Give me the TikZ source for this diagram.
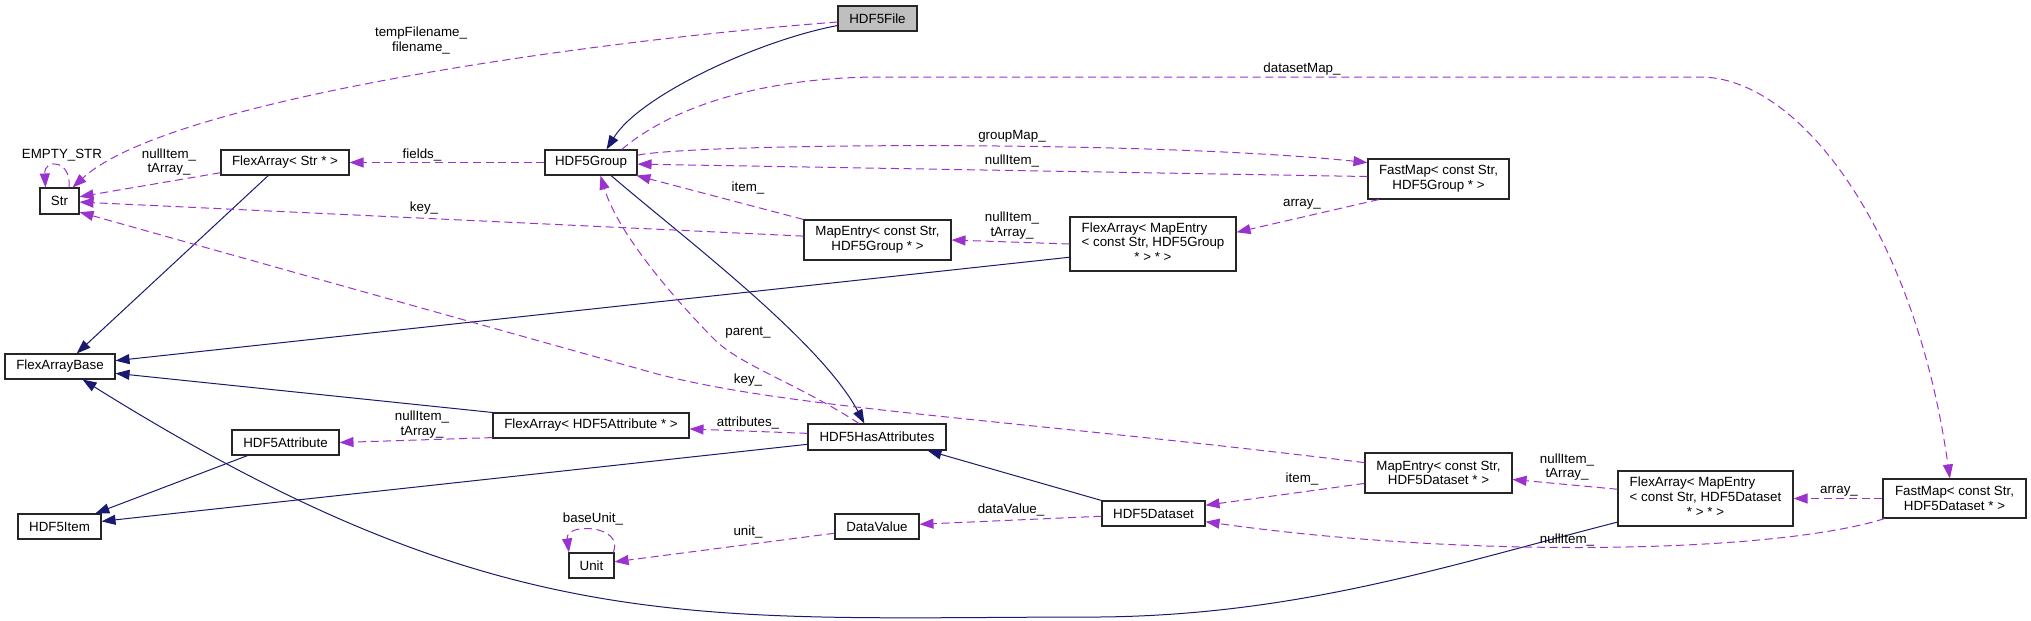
\documentclass[tikz,border=0pt]{standalone}
\usepackage{fontspec}
\setmainfont{Liberation Sans}
\usetikzlibrary{arrows.meta}
\definecolor{DoxyNavy}{HTML}{191970}
\definecolor{DoxyPurple}{HTML}{9A32CD}
\definecolor{DoxyGray}{HTML}{BFBFBF}
\begin{document}
\begin{tikzpicture}[x=0.75pt,y=-0.75pt,
  font=\fontsize{10}{11}\selectfont,
  cls/.style={draw=black!85,fill=white,line width=0.8pt,inner sep=0pt,align=center},
  sz/.style 2 args={minimum width=#1*0.75pt,minimum height=#2*0.75pt},
  inherit/.style={draw=DoxyNavy,line width=0.75pt,-{Triangle[length=10.5pt,width=7.5pt]}},
  usage/.style={draw=DoxyPurple,line width=0.75pt,dash pattern=on 6pt off 3.5pt,
    -{Triangle[length=10.5pt,width=7.5pt]}},
  lbl/.style={inner sep=0pt,align=center}]
  \path[use as bounding box] (0,0) rectangle (2031,621);
  \node[cls,sz={79}{25},fill=DoxyGray] (file) at (877.5,18.5) {HDF5File};
  \node[cls,sz={39}{26}] (str) at (59.5,201) {Str};
  \node[cls,sz={128}{25}] (flexstr) at (285,162.5) {FlexArray< Str * >};
  \node[cls,sz={92}{25}] (group) at (591,162.5) {HDF5Group};
  \node[cls,sz={141}{40}] (fastgroup) at (1438.5,179) {FastMap< const Str,\\HDF5Group * >};
  \node[cls,sz={147}{40}] (entrygroup) at (877.5,240) {MapEntry< const Str,\\HDF5Group * >};
  \node[cls,sz={166}{54}] (flexentrygroup) at (1153,244)
    {\begin{tabular}{@{}l@{}}FlexArray< MapEntry\\< const Str, HDF5Group\\\hfill* > * >\hfill\null\end{tabular}};
  \node[cls,sz={110}{25}] (flexbase) at (60,366.5) {FlexArrayBase};
  \node[cls,sz={107}{25}] (attr) at (285.5,442.5) {HDF5Attribute};
  \node[cls,sz={196}{25}] (flexattr) at (591,425.5) {FlexArray< HDF5Attribute * >};
  \node[cls,sz={138}{26}] (hasattr) at (877,437) {HDF5HasAttributes};
  \node[cls,sz={147}{40}] (entrydataset) at (1438.5,473) {MapEntry< const Str,\\HDF5Dataset * >};
  \node[cls,sz={83}{25}] (item) at (59.5,526.5) {HDF5Item};
  \node[cls,sz={45}{25}] (unit) at (591.5,565.5) {Unit};
  \node[cls,sz={84}{25}] (datavalue) at (877,526.5) {DataValue};
  \node[cls,sz={103}{25}] (dataset) at (1153.5,513.5) {HDF5Dataset};
  \node[cls,sz={175}{55}] (flexentrydataset) at (1705.5,498.5)
    {\begin{tabular}{@{}l@{}}FlexArray< MapEntry\\< const Str, HDF5Dataset\\\hfill* > * >\hfill\null\end{tabular}};
  \node[cls,sz={143}{39}] (fastdataset) at (1954.5,498.5) {FastMap< const Str,\\HDF5Dataset * >};
  \draw[inherit] (file.190) .. controls (760,40) and (640,95) .. (group.40);
  \draw[inherit] (group.-33) .. controls (680,235) and (820,340) .. (hasattr.133);
  \draw[inherit] (flexstr.218) -- (flexbase.38);
  \draw[inherit] (flexentrygroup.189) -- (flexbase.6);
  \draw[inherit] (flexattr.north west) -- (flexbase.-7);
  \draw[inherit] (flexentrydataset.195) .. controls (1450,565) and (1300,615) .. (1100,617)
    .. controls (700,617) and (506,644) .. (flexbase.-30);
  \draw[inherit] (attr.199) -- (item.20);
  \draw[inherit] (hasattr.186) -- (item.7.5);
  \draw[inherit] (dataset.north west) -- (hasattr.-15);
  \draw[usage] (file.185) .. controls (600,40) and (170,98) .. (str.46);
  \draw[usage] (str.55) .. controls (72,160) and (44,158) .. (str.136);
  \draw[usage] (flexstr.189) -- (str.12);
  \draw[usage] (group.west) -- (flexstr.east);
  \draw[usage] (entrygroup.177) -- (str.-3);
  \draw[usage] (entrydataset.172) .. controls (1000,418) and (780,408) .. (650,372)
    .. controls (500,330) and (250,260) .. (str.-29);
  \draw[usage] (group.9) .. controls (700,143) and (1150,140) .. (fastgroup.167);
  \draw[usage] (fastgroup.178) -- (group.-2);
  \draw[usage] (entrygroup.north west) -- (group.-16);
  \draw[usage] (flexentrygroup.west) -- (entrygroup.east);
  \draw[usage] (fastgroup.199) -- (flexentrygroup.8);
  \draw[usage] (group.23) .. controls (680,100) and (780,77) .. (880,77) -- (1700,77)
    .. controls (1800,77) and (1915,231) .. (fastdataset.103);
  \draw[usage] (hasattr.143) .. controls (800,385) and (740,365) .. (715,340)
    .. controls (690,315) and (620,240) .. (group.-54);
  \draw[usage] (hasattr.177.5) -- (flexattr.-2);
  \draw[usage] (flexattr.187) -- (attr.east);
  \draw[usage] (unit.31) .. controls (625,525) and (565,522) .. (unit.150);
  \draw[usage] (datavalue.189) -- (unit.9);
  \draw[usage] (dataset.183) -- (datavalue.3);
  \draw[usage] (entrydataset.188) -- (dataset.9);
  \draw[usage] (flexentrydataset.174) -- (entrydataset.-5);
  \draw[usage] (fastdataset.west) -- (flexentrydataset.east);
  \draw[usage] (fastdataset.196) .. controls (1780,552) and (1480,560) .. (dataset.-9);
  \node[lbl] (lfilename) at (421,40.5) {tempFilename\_\\filename\_};
  \node[lbl] (lemptystr) at (62,155) {EMPTY\_STR};
  \node[lbl] (lstrarray) at (169,162) {nullItem\_\\tArray\_};
  \node[lbl] (lfields) at (422,155) {fields\_};
  \node[lbl] (lkeygroup) at (424,208) {key\_};
  \node[lbl] (lgroupmap) at (1012,136) {groupMap\_};
  \node[lbl] (lnullgroup) at (1012,161) {nullItem\_};
  \node[lbl] (litemgroup) at (748,188) {item\_};
  \node[lbl] (lentrygroup) at (1012,225.5) {nullItem\_\\tArray\_};
  \node[lbl] (larraygroup) at (1302,204) {array\_};
  \node[lbl] (ldatasetmap) at (1302,69) {datasetMap\_};
  \node[lbl] (lparent) at (748,333) {parent\_};
  \node[lbl] (lkeydataset) at (748,380) {key\_};
  \node[lbl] (lattributes) at (748,423) {attributes\_};
  \node[lbl] (lattrarray) at (422,424.5) {nullItem\_\\tArray\_};
  \node[lbl] (lbaseunit) at (593,519) {baseUnit\_};
  \node[lbl] (lunit) at (748,532) {unit\_};
  \node[lbl] (ldatavalue) at (1011,510) {dataValue\_};
  \node[lbl] (litemdataset) at (1302,479) {item\_};
  \node[lbl] (lentrydataset) at (1567,467) {nullItem\_\\tArray\_};
  \node[lbl] (larraydataset) at (1839,491) {array\_};
  \node[lbl] (lnulldataset) at (1567,540) {nullItem\_};
\end{tikzpicture}
\end{document}
